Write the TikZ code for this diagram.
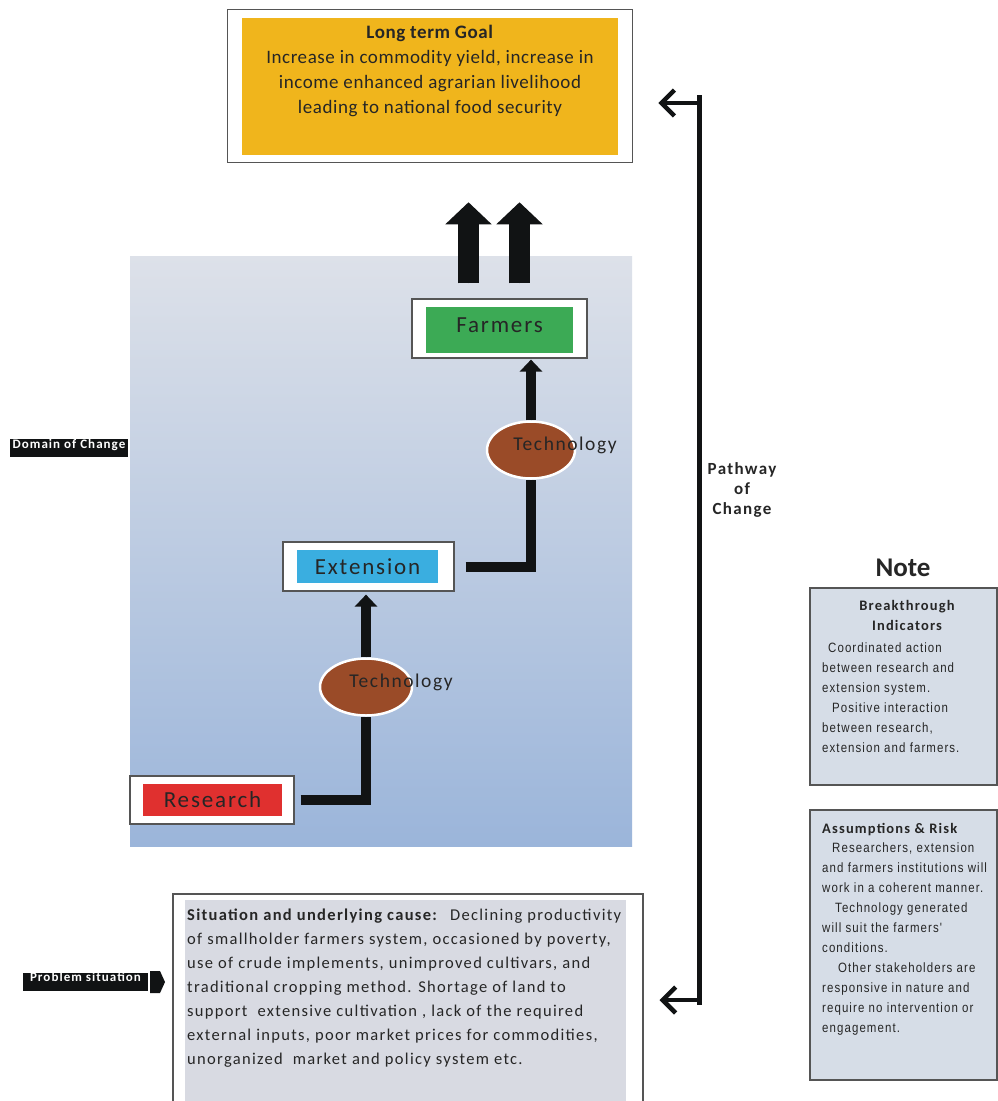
\documentclass[tikz,border=0pt]{standalone}
\usepackage{fontspec}
\setmainfont{Carlito}
\newfontfamily\spfont[LetterSpace=8]{Carlito}
\newfontfamily\sitfont[LetterSpace=8]{Carlito}
\newfontfamily\goalfont[LetterSpace=3]{Carlito}
\newfontfamily\notefont[FakeStretch=0.85,LetterSpace=8]{Liberation Sans}
\usetikzlibrary{shapes.geometric,arrows.meta}
\definecolor{goalC}{HTML}{F0B51C}
\definecolor{farmC}{HTML}{3CAA55}
\definecolor{extC}{HTML}{3AAEE0}
\definecolor{resC}{HTML}{E0302F}
\definecolor{techC}{HTML}{9A4B28}
\definecolor{bgTop}{HTML}{DDE1E9}
\definecolor{bgMid}{HTML}{C3D0E0}
\definecolor{bgBot}{HTML}{9BB5DA}
\definecolor{noteC}{HTML}{D6DDE7}
\definecolor{sitC}{HTML}{D8DAE2}
\definecolor{txtC}{HTML}{262626}
\definecolor{edgeC}{HTML}{555555}
\definecolor{arrC}{HTML}{111314}
\begin{document}
\begin{tikzpicture}[x=1pt,y=-1pt,
  outerbox/.style={draw=edgeC, line width=1.2pt, fill=white, inner sep=0pt},
  innerbox/.style={inner sep=0pt, text=txtC, font=\spfont\fontsize{23}{27}\selectfont},
  techbox/.style={ellipse, fill=techC, draw=white, line width=2.5pt, inner sep=0pt},
  techlabel/.style={inner sep=0pt, text=txtC, font=\spfont\fontsize{19.5}{22}\selectfont},
  elbow/.style={draw=arrC, line width=10pt, line join=miter, line cap=butt},
  medarrow/.style={draw=arrC, fill=arrC, line width=10pt, -{Triangle[width=22pt,length=12pt]}},
  bigarrow/.style={draw=arrC, fill=arrC, line width=21pt, -{Triangle[width=45pt,length=22pt]}},
  tagbox/.style={fill=arrC, text=white, inner sep=0pt, text height=9pt, text depth=9pt,
     font=\spfont\bfseries\fontsize{13}{15}\selectfont},
  notebox/.style={draw=edgeC, line width=1.5pt, fill=noteC, inner sep=0pt},
  notetext/.style={inner sep=0pt, align=left, text=txtC, font=\notefont\fontsize{13.5}{20}\selectfont},
  notehead/.style={inner sep=0pt, text=txtC, font=\spfont\bfseries\fontsize{14.5}{20}\selectfont},
  path/.style={draw=arrC, line width=4.5pt, -{Straight Barb[length=13pt,width=26pt]}}
]
\useasboundingbox (0,0) rectangle (998,1101);
\fill[white] (0,0) rectangle (998,1101);

% ---------- long term goal ----------
\node[outerbox, line width=1.5pt, minimum width=405pt, minimum height=153pt] (goalouter) at (430,86) {};
\node[inner sep=0pt, fill=goalC, minimum width=376pt, minimum height=137pt] (goal) at (430,86.5) {};
\node[anchor=north, align=center, inner sep=0pt, text=txtC, font=\goalfont\fontsize{19}{25}\selectfont] (goaltext) at (430,25)
  {\textbf{Long term Goal}\\Increase in commodity yield, increase in\\income enhanced agrarian livelihood\\leading to national food security};

% ---------- domain of change background ----------
\shade[top color=bgTop, middle color=bgMid, bottom color=bgBot] (130,256) rectangle (632,846);

% ---------- boxes ----------
\node[outerbox, minimum width=175pt, minimum height=59pt] (farmers) at (499.5,328.5) {};
\node[innerbox, fill=farmC, minimum width=147pt, minimum height=46pt, text depth=10pt] (farmersI) at (499.5,330) {Farmers};

\node[outerbox, minimum width=171pt, minimum height=49pt] (extension) at (368.5,566.5) {};
\node[innerbox, fill=extC, minimum width=141pt, minimum height=33pt] (extensionI) at (367.5,566.5) {Extension};

\node[outerbox, minimum width=164pt, minimum height=48pt] (research) at (212,800) {};
\node[innerbox, fill=resC, minimum width=139pt, minimum height=32pt] (researchI) at (212.5,800) {Research};

% ---------- technology ----------
\node[techbox, minimum width=92pt, minimum height=57pt] (tech1) at (366,687) {};
\node[techbox, minimum width=88pt, minimum height=57pt] (tech2) at (531,450) {};

% ---------- connectors ----------
\draw[elbow] ([xshift=6pt]research.east) -| (tech1.south);
\draw[medarrow, shorten >=3pt] (tech1.north) -- (tech1.north |- extension.south);
\draw[elbow] ([xshift=11pt]extension.east) -| (tech2.south);
\draw[medarrow, shorten >=1pt] (tech2.north) -- (tech2.north |- farmers.south);

\node[techlabel] (tech1lab) at (401,682) {Technology};
\node[techlabel] (tech2lab) at (565,445) {Technology};

\draw[bigarrow, shorten <=15pt, shorten >=39pt] ([xshift=-31pt]farmers.north) -- ([xshift=-31pt]farmers.north |- goalouter.south);
\draw[bigarrow, shorten <=15pt, shorten >=39pt] ([xshift=20pt]farmers.north) -- ([xshift=20pt]farmers.north |- goalouter.south);

% ---------- side tags ----------
\node[tagbox, minimum width=118pt, anchor=north] (domain) at (69,439) {Domain of Change};
\node[tagbox, minimum width=125pt] (problem) at (85.5,981.5) {Problem situation};
\fill[arrC] (150,971) -- (160,971) -- (165,982) -- (160,993) -- (150,993) -- cycle;

% ---------- situation ----------
\node[draw=edgeC, line width=1.5pt, fill=white, inner sep=0pt, minimum width=470pt, minimum height=230pt, anchor=north west] (sitouter) at (172,893) {};
\fill[sitC] (185,900) rectangle (626,1110);
\node[anchor=north west, align=left, inner sep=0pt, text=txtC, font=\sitfont\fontsize{16.5}{24}\selectfont] (situation) at (187,909)
  {\textbf{Situation and underlying cause:}~ Declining productivity\\
   of smallholder farmers system, occasioned by poverty,\\
   use of crude implements, unimproved cultivars, and\\
   traditional cropping method. Shortage of land to\\
   support~ extensive cultivation , lack of the required\\
   external inputs, poor market prices for commodities,\\
   unorganized~ market and policy system etc.};

% ---------- pathway of change ----------
\coordinate (ptop) at (699,95);
\coordinate (pbot) at (699,1005);
\coordinate (ptopj) at (699,103);
\coordinate (pbotj) at (699,1000);
\draw[arrC, line width=5pt] (ptop) -- (pbot);
\draw[path, shorten >=25pt] (ptopj) -- (ptopj -| goalouter.east);
\draw[path, shorten >=16pt] (pbotj) -- (pbotj -| sitouter.east);
\node[align=center, inner sep=0pt, text=txtC, font=\spfont\bfseries\fontsize{17}{20}\selectfont] (pathway) at (742,490) {Pathway\\of\\Change};

% ---------- note ----------
\node[inner sep=0pt, text=txtC, font=\bfseries\fontsize{27}{30}\selectfont] (notetitle) at (903,568) {Note};
\node[notebox, minimum width=187pt, minimum height=197pt] (note) at (903.5,686.5) {};
\node[notehead, align=center, anchor=north] (notehd) at (907,600) {Breakthrough\\Indicators};
\node[notetext, anchor=north west] (notebody) at (822,643)
  {\hspace*{6pt}Coordinated action\\between research and\\extension system.\\\hspace*{10pt}Positive interaction\\between research,\\extension and farmers.};

\node[notebox, minimum width=187pt, minimum height=270pt] (assume) at (903.5,945) {};
\node[notehead, anchor=north west] (assumehd) at (822,823) {Assumptions \& Risk};
\node[notetext, anchor=north west] (assumebody) at (822,843)
  {\hspace*{10pt}Researchers, extension\\and farmers institutions will\\work in a coherent manner.\\\hspace*{13pt}Technology generated\\will suit the farmers'\\conditions.\\\hspace*{16pt}Other stakeholders are\\responsive in nature and\\require no intervention or\\engagement.};
\end{tikzpicture}
\end{document}
